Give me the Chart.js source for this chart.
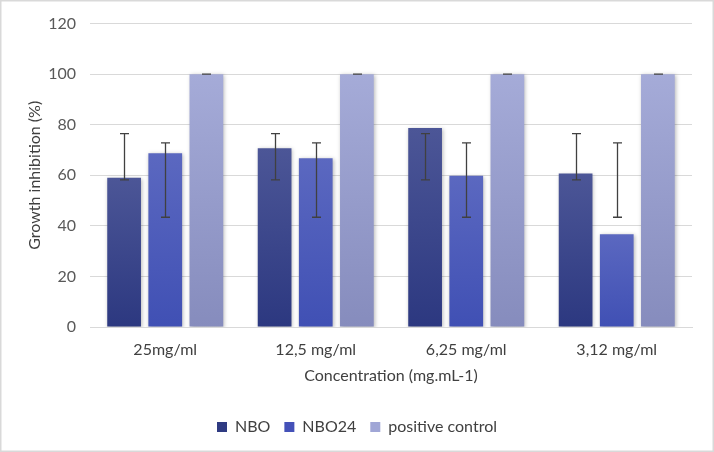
<!DOCTYPE html>
<html>
<head>
<meta charset="utf-8">
<script src="https://cdn.jsdelivr.net/npm/chart.js@4/dist/chart.umd.min.js"></script>
<style>
  body { margin: 0; background: #fff; }
  #wrap { width: 714px; height: 452px; }
</style>
</head>
<body>
<div id="wrap"><canvas id="growth" width="714" height="452"></canvas></div>
<script>
// data
var concentrations = ["25mg/ml", "12,5 mg/ml", "6,25 mg/ml", "3,12 mg/ml"];
var nbo = [59, 70.7, 78.7, 60.7];
var nbo24 = [68.7, 66.7, 59.8, 36.7];
var positiveControl = [100, 100, 100, 100];
// error bar ends (low, high) per category
var nboErrLow = [58.2, 58.2, 58.2, 58.2];
var nboErrHigh = [76.5, 76.5, 76.5, 76.5];
var nbo24ErrLow = [43.4, 43.4, 43.4, 43.4];
var nbo24ErrHigh = [72.8, 72.8, 72.8, 72.8];
var pcErrLow = [100, 100, 100, 100];
var pcErrHigh = [100, 100, 100, 100];

var FONT = "Lato, 'Liberation Sans', sans-serif";

// vertical gradient per bar, lighter at the top
function barGradient(top, bottom, solid) {
  return function (ctx) {
    var chart = ctx.chart;
    if (!chart.chartArea || ctx.type !== 'data') return solid;
    var y = chart.scales.y;
    var yTop = y.getPixelForValue(ctx.raw);
    var yBase = y.getPixelForValue(0);
    if (!isFinite(yTop) || yTop === yBase) return solid;
    var g = chart.ctx.createLinearGradient(0, yTop, 0, yBase);
    g.addColorStop(0, top);
    g.addColorStop(1, bottom);
    return g;
  };
}

var frame = {
  id: 'frame',
  beforeDraw: function (chart) {
    var c = chart.ctx;
    c.save();
    c.fillStyle = '#fff';
    c.fillRect(0, 0, chart.width, chart.height);
    c.strokeStyle = '#d9d9d9';
    c.lineWidth = 1.5;
    c.strokeRect(0.75, 0.75, chart.width - 1.5, chart.height - 1.5);
    c.restore();
  }
};

var barShadow = {
  id: 'barShadow',
  beforeDatasetsDraw: function (chart) {
    var c = chart.ctx;
    c.save();
    c.shadowColor = 'rgba(0,0,0,0.28)';
    c.shadowBlur = 4;
    c.shadowOffsetX = 1;
    c.shadowOffsetY = 1;
  },
  afterDatasetsDraw: function (chart) {
    chart.ctx.restore();
  }
};

var errorBars = {
  id: 'errorBars',
  afterDatasetsDraw: function (chart) {
    var c = chart.ctx;
    var y = chart.scales.y;
    c.save();
    c.strokeStyle = '#404040';
    c.lineWidth = 1.3;
    chart.data.datasets.forEach(function (ds, i) {
      var meta = chart.getDatasetMeta(i);
      meta.data.forEach(function (bar, j) {
        var x = Math.round(bar.x) + 0.5;
        var y1 = y.getPixelForValue(ds.errLow[j]);
        var y2 = y.getPixelForValue(ds.errHigh[j]);
        c.beginPath();
        c.moveTo(x, y1); c.lineTo(x, y2);
        c.moveTo(x - 4.5, y1); c.lineTo(x + 4.5, y1);
        c.moveTo(x - 4.5, y2); c.lineTo(x + 4.5, y2);
        c.stroke();
      });
    });
    c.restore();
  }
};

var ctx = document.getElementById('growth').getContext('2d');
var chart = new Chart(ctx, {
  type: 'bar',
  data: {
    labels: concentrations,
    datasets: [{
      label: 'NBO',
      data: nbo,
      errLow: nboErrLow,
      errHigh: nboErrHigh,
      backgroundColor: barGradient('#4c5697', '#2c3880', '#2f3b82')
    }, {
      label: 'NBO24',
      data: nbo24,
      errLow: nbo24ErrLow,
      errHigh: nbo24ErrHigh,
      backgroundColor: barGradient('#5b68c0', '#4050b4', '#4451b8')
    }, {
      label: 'positive control',
      data: positiveControl,
      errLow: pcErrLow,
      errHigh: pcErrHigh,
      backgroundColor: barGradient('#a5abd8', '#868cbd', '#9da4d6')
    }]
  },
  options: {
    responsive: false,
    animation: false,
    devicePixelRatio: 1,
    categoryPercentage: 0.82,
    barPercentage: 0.82,
    layout: { padding: { left: 0, right: 0, top: 21, bottom: 7 } },
    plugins: {
      tooltip: { enabled: false },
      legend: {
        position: 'bottom',
        labels: {
          color: '#404040',
          font: { family: FONT, size: 16 },
          boxWidth: 10,
          boxHeight: 10,
          padding: 14,
          generateLabels: function (chart) {
            var solids = ['#2f3b82', '#4451b8', '#a0a6d6'];
            return chart.data.datasets.map(function (ds, i) {
              return {
                text: ds.label,
                fillStyle: solids[i],
                strokeStyle: solids[i],
                lineWidth: 0,
                fontColor: '#404040',
                datasetIndex: i
              };
            });
          }
        }
      }
    },
    scales: {
      x: {
        grid: { display: false },
        border: { color: '#d9d9d9' },
        ticks: { color: '#404040', font: { family: FONT, size: 16 }, padding: 5 },
        title: {
          display: true,
          text: 'Concentration (mg.mL-1)',
          color: '#404040',
          font: { family: FONT, size: 16 },
          padding: { top: 4, bottom: 20 }
        },
        afterFit: function (scale) { scale.height = 78; }
      },
      y: {
        min: 0,
        max: 120,
        ticks: { stepSize: 20, color: '#595959', font: { family: FONT, size: 16 }, padding: 14 },
        grid: { color: '#d9d9d9', drawTicks: false },
        border: { display: false },
        title: {
          display: true,
          text: 'Growth inhibition (%)',
          color: '#404040',
          font: { family: FONT, size: 16 },
          padding: { top: 25, bottom: 0 }
        },
        afterFit: function (scale) { scale.width = 90; }
      },
      // empty right-hand axis that only keeps the right margin
      yRight: {
        position: 'right',
        display: true,
        grid: { display: false, drawTicks: false },
        border: { display: false },
        ticks: { display: false },
        afterFit: function (scale) { scale.width = 22; }
      }
    }
  },
  plugins: [frame, barShadow, errorBars]
});
</script>
</body>
</html>
